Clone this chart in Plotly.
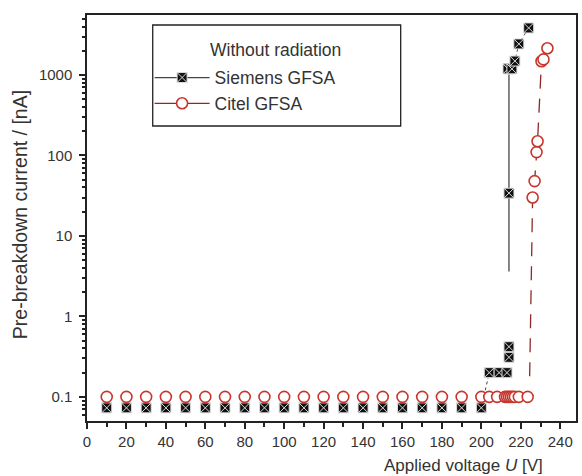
import plotly.graph_objects as go

# ---- data ----
siemens_low_x = [10, 20, 30, 40, 50, 60, 70, 80, 90, 100, 110, 120, 130, 140, 150, 160, 170, 180, 190, 200]
siemens_low_y = [0.073] * 20
siemens_hi_x = [204, 209, 213, 214, 214, 214, 214, 213.5, 215.5, 217, 219, 224]
siemens_hi_y = [0.2, 0.2, 0.2, 0.31, 0.42, 34, 1190, 1190, 1190, 1490, 2430, 3840]

citel_low_x = [10, 20, 30, 40, 50, 60, 70, 80, 90, 100, 110, 120, 130, 140, 150, 160, 170, 180, 190, 200]
citel_low_y = [0.1] * 20
citel_hi_x = [204, 208, 212, 213, 214, 215, 216, 217, 219, 223.5, 226, 227, 228, 228.5, 230.5, 231.5, 233.5]
citel_hi_y = [0.1, 0.1, 0.1, 0.1, 0.1, 0.1, 0.1, 0.1, 0.1, 0.1, 30, 48, 110, 150, 1480, 1560, 2150]

# connecting line segments (as drawn in the figure)
siemens_solid_x = [214, 214]
siemens_solid_y = [3.6, 1190]
siemens_dot_x = [200, 204, None, 215.5, 217, 219, 224]
siemens_dot_y = [0.073, 0.2, None, 1190, 1490, 2430, 3840]
citel_line_x = [224.5, 226, 227, 228, 228.5, 230.5, 231.5, 233.5]
citel_line_y = [0.18, 30, 48, 110, 150, 1480, 1560, 2150]

series_names = ["Siemens GFSA", "Citel GFSA"]
legend_title = "Without radiation"
y_tickvals = [0.1, 1, 10, 100, 1000]
y_ticktext = ["0.1", "1", "10", "100", "1000"]
x_tickvals = [0, 20, 40, 60, 80, 100, 120, 140, 160, 180, 200, 220, 240]

BLACK = "#111111"
RED = "#c8352c"
DARKRED = "#8e2a26"
LINEGRAY = "#444444"
TEXT = "#333333"
FONT = "Liberation Sans, Arial, Helvetica, sans-serif"

fig = go.Figure()

# lines
fig.add_trace(go.Scatter(x=siemens_solid_x, y=siemens_solid_y, mode="lines",
                         line=dict(color=LINEGRAY, width=1.3), showlegend=False, hoverinfo="skip"))
fig.add_trace(go.Scatter(x=siemens_dot_x, y=siemens_dot_y, mode="lines",
                         line=dict(color=LINEGRAY, width=1, dash="dot"), showlegend=False,
                         connectgaps=False, hoverinfo="skip"))
fig.add_trace(go.Scatter(x=citel_line_x, y=citel_line_y, mode="lines",
                         line=dict(color=DARKRED, width=1.3, dash="14px,10px"), showlegend=False,
                         hoverinfo="skip"))

siemens_marker = dict(symbol="square-x", size=10, color=BLACK, line=dict(color="#dddddd", width=1))
citel_marker = dict(symbol="circle", size=11, color="white", line=dict(color=RED, width=1.6))

fig.add_trace(go.Scatter(x=siemens_low_x + siemens_hi_x, y=siemens_low_y + siemens_hi_y,
                         mode="markers", marker=siemens_marker, showlegend=False))
fig.add_trace(go.Scatter(x=citel_low_x + citel_hi_x, y=citel_low_y + citel_hi_y,
                         mode="markers", marker=citel_marker, showlegend=False))

# legend entries
fig.add_trace(go.Scatter(x=[None], y=[None], mode="lines+markers", name=series_names[0],
                         marker=siemens_marker, line=dict(color=LINEGRAY, width=1.3)))
fig.add_trace(go.Scatter(x=[None], y=[None], mode="lines+markers", name=series_names[1],
                         marker=citel_marker, line=dict(color=DARKRED, width=1.3)))

axis_common = dict(showline=True, linecolor="#222222", linewidth=1.5, mirror=True,
                   ticks="outside", tickcolor="#222222", showgrid=False, zeroline=False,
                   tickfont=dict(size=15, color=TEXT, family=FONT))

fig.update_xaxes(range=[0, 248], tickvals=x_tickvals, ticklen=6, tickwidth=1.5,
                 minor=dict(ticks="outside", dtick=10, tick0=0, ticklen=4, tickcolor="#222222"),
                 **axis_common)
fig.update_yaxes(type="log", range=[-1.3, 3.745], tickvals=y_tickvals, ticktext=y_ticktext,
                 ticklen=6, tickwidth=1.5, ticklabelstandoff=4,
                 minor=dict(ticks="outside", dtick="D1", ticklen=3, tickcolor="#222222"),
                 **axis_common)

fig.add_annotation(text="Applied voltage <i>U</i> [V]", xref="paper", yref="paper",
                   x=0.769, y=0, yshift=-44, xanchor="center", yanchor="middle",
                   showarrow=False, font=dict(size=17, color=TEXT, family=FONT))
fig.add_annotation(text="Pre-breakdown current / [nA]", xref="paper", yref="paper",
                   x=0, xshift=-67, y=0.507, xanchor="center", yanchor="middle", textangle=-90,
                   showarrow=False, font=dict(size=19.5, color=TEXT, family=FONT))

# legend frame and title
fig.add_shape(type="rect", xref="paper", yref="paper", x0=0.1344, x1=0.6415, y0=0.7266, y1=0.9754,
              line=dict(color="#222222", width=1.3), fillcolor="white", layer="below")
fig.add_annotation(text=legend_title, xref="paper", yref="paper", x=0.385, y=0.914,
                   xanchor="center", yanchor="middle", showarrow=False,
                   font=dict(size=17.5, color=TEXT, family=FONT))

fig.update_layout(
    width=582, height=476,
    margin=dict(l=87, r=4, t=15, b=55),
    paper_bgcolor="white", plot_bgcolor="white",
    font=dict(family=FONT, color=TEXT),
    legend=dict(x=0.128, y=0.89, xanchor="left", yanchor="top",
                borderwidth=0, bgcolor="rgba(0,0,0,0)",
                font=dict(size=17.5, color=TEXT, family=FONT),
                itemwidth=55, tracegroupgap=0),
    showlegend=True,
)

fig.write_html("out.html")
